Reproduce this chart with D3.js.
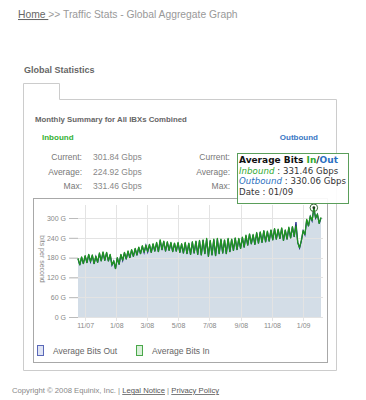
<!DOCTYPE html>
<html>
<head>
<meta charset="utf-8">
<script src="https://cdn.jsdelivr.net/npm/d3@7"></script>
<style>
  body { margin: 0; background: #fff; }
  text { font-family: "Liberation Sans", Arial, sans-serif; }
</style>
</head>
<body>
<div id="chart"></div>
<script>
// half-week samples: weekday high, then weekend low, starting 18 Oct 2007
const startDate = new Date(2007, 9, 18)
const inHigh = [178,182,186,190,188,184,194,197,196,190,170,180,190,196,200,204,208,212,216,218,220,222,226,234,230,228,226,224,226,222,226,224,228,230,232,234,238,232,236,238,236,234,238,236,240,238,242,248,252,250,256,258,262,260,264,268,266,270,264,272,274,276,210,262,296,306,331,312,302]
const inLow = [158,162,165,168,162,166,170,172,170,158,147,160,172,176,180,184,188,192,196,198,196,200,198,204,200,202,198,200,196,194,192,190,194,190,188,192,184,188,186,192,194,192,198,202,204,208,212,218,222,220,224,226,228,230,234,236,238,232,236,240,244,226,232,250,276,292,300,284]
const outHigh = [176,181,185,189,187,183,192,196,195,189,169,179,189,195,199,203,207,211,215,217,219,221,225,232,229,227,225,223,225,221,225,223,227,229,231,233,236,231,235,237,235,233,237,235,239,237,241,247,251,249,255,257,261,259,263,267,265,269,263,271,273,288,209,261,294,305,330,311,300]
const outLow = [157,161,164,167,161,165,169,171,169,157,146,159,171,175,179,183,187,191,195,197,195,199,197,203,199,201,197,199,195,193,191,189,193,189,187,191,183,187,185,191,193,191,197,201,203,207,211,217,221,219,223,225,227,229,233,235,237,231,235,239,243,225,231,249,275,291,299,283]

const yTicks = [0, 60, 120, 180, 240, 300]
const monthTicks = [new Date(2007,10,1), new Date(2008,0,1), new Date(2008,2,1), new Date(2008,4,1),
                    new Date(2008,6,1), new Date(2008,8,1), new Date(2008,10,1), new Date(2009,0,1)]

const statLabels = ["Current:", "Average:", "Max:"]
const inStats = ["301.84 Gbps", "224.92 Gbps", "331.46 Gbps"]
const legendItems = ["Average Bits Out", "Average Bits In"]

const data = []
inHigh.forEach((v, k) => {
  data.push({date: d3.timeHour.offset(startDate, k*168), inb: v, out: outHigh[k]})
  if (k < inLow.length)
    data.push({date: d3.timeHour.offset(startDate, k*168 + 84), inb: inLow[k], out: outLow[k]})
})

const svg = d3.select("#chart").append("svg")
  .attr("width", 366).attr("height", 400)

// breadcrumb
const crumb = svg.append("text").attr("x", 18).attr("y", 18).style("font-size", "10.3px")
crumb.append("tspan").attr("fill", "#666").style("text-decoration", "underline").text("Home ")
crumb.append("tspan").attr("fill", "#999").text(">> Traffic Stats - Global Aggregate Graph")

svg.append("text").attr("x", 24).attr("y", 73)
  .style("font-size", "9px").style("font-weight", "bold").attr("fill", "#666")
  .text("Global Statistics")

// panel with tab
svg.append("path")
  .attr("d", "M23.5,83.5 H59.5 V99.5 H336.5 V370.5 H23.5 Z")
  .attr("fill", "none").attr("stroke", "#ccc")

svg.append("text").attr("x", 35).attr("y", 122)
  .style("font-size", "7.8px").style("font-weight", "bold").attr("fill", "#666")
  .text("Monthly Summary for All IBXs Combined")

svg.append("text").attr("x", 42).attr("y", 140)
  .style("font-size", "8px").style("font-weight", "bold").attr("fill", "#33b033").text("Inbound")
svg.append("text").attr("x", 318).attr("y", 140).attr("text-anchor", "end")
  .style("font-size", "8px").style("font-weight", "bold").attr("fill", "#3a78c4").text("Outbound")

statLabels.forEach((s, i) => {
  const yy = 160 + i*14.5
  svg.append("text").attr("x", 82).attr("y", yy).attr("text-anchor", "end")
    .style("font-size", "8.5px").attr("fill", "#777").text(s)
  svg.append("text").attr("x", 93).attr("y", yy)
    .style("font-size", "8.5px").attr("fill", "#888").text(inStats[i])
  svg.append("text").attr("x", 230).attr("y", yy).attr("text-anchor", "end")
    .style("font-size", "8.5px").attr("fill", "#777").text(s)
})

// chart box
svg.append("rect").attr("x", 33.5).attr("y", 198.5).attr("width", 294).attr("height", 164)
  .attr("fill", "#fff").attr("stroke", "#a8a8a8")

const x = d3.scaleTime().domain(d3.extent(data, d => d.date)).range([78, 321])
const y = d3.scaleLinear().domain([0, 300]).range([317, 218])

svg.append("path").datum(data)
  .attr("fill", "#d3dde7")
  .attr("d", d3.area().x(d => x(d.date)).y0(y(0)).y1(d => y(d.out)))

// grid
svg.append("g").selectAll("line").data(yTicks).join("line")
  .attr("x1", 70).attr("x2", 323)
  .attr("y1", d => Math.round(y(d)) + 0.5).attr("y2", d => Math.round(y(d)) + 0.5)
  .attr("stroke", "#e3e3e3")
svg.append("g").selectAll("line").data(monthTicks).join("line")
  .attr("x1", d => Math.round(x(d)) + 0.5).attr("x2", d => Math.round(x(d)) + 0.5)
  .attr("y1", 205).attr("y2", 321)
  .attr("stroke", "#e3e3e3")

const yAxis = svg.append("g").attr("transform", "translate(78,0)")
  .call(d3.axisLeft(y).tickValues(yTicks).tickFormat(d => d + " G").tickSize(9).tickPadding(3))
yAxis.select(".domain").remove()
yAxis.selectAll("line").attr("stroke", "#bbb")
yAxis.selectAll("text").attr("fill", "#888").style("font-size", "7px")
  .style("font-family", "'Liberation Sans', Arial, sans-serif")

const xAxis = svg.append("g").attr("transform", "translate(0,317)")
  .call(d3.axisBottom(x).tickValues(monthTicks).tickFormat(d3.timeFormat("%-m/%y")).tickSize(0).tickPadding(6))
xAxis.select(".domain").remove()
xAxis.selectAll("text").attr("fill", "#888").style("font-size", "7px")
  .style("font-family", "'Liberation Sans', Arial, sans-serif")

svg.append("text")
  .attr("transform", "translate(40,259) rotate(90)")
  .attr("text-anchor", "middle")
  .style("font-size", "7px").attr("fill", "#888")
  .text("bits per second")

const line = key => d3.line().x(d => x(d.date)).y(d => y(d[key]))
svg.append("path").datum(data).attr("fill", "none")
  .attr("stroke", "#1b1f8a").attr("stroke-width", 1.2).attr("d", line("out"))
svg.append("path").datum(data).attr("fill", "none")
  .attr("stroke", "#1f941f").attr("stroke-width", 1.3).attr("stroke-linejoin", "round")
  .attr("d", line("inb"))

// hovered max point
const peak = data.reduce((a, b) => b.inb > a.inb ? b : a)
svg.append("circle").attr("cx", x(peak.date)).attr("cy", y(peak.inb)).attr("r", 3.8)
  .attr("fill", "none").attr("stroke", "#3b6b3b").attr("stroke-width", 1)
svg.append("circle").attr("cx", x(peak.date)).attr("cy", y(peak.inb)).attr("r", 1.4)
  .attr("fill", "#1f3f1f")

// legend
legendItems.forEach((t, i) => {
  const lx = 37 + i*99
  svg.append("rect").attr("x", lx + 0.5).attr("y", 345.5).attr("width", 6).attr("height", 10)
    .attr("fill", i ? "#d9f0d9" : "#dfe4f4").attr("stroke", i ? "#4aa84a" : "#5a68b8")
  svg.append("text").attr("x", lx + 16).attr("y", 353.5)
    .style("font-size", "8.5px").attr("fill", "#666").text(t)
})

// tooltip
const tip = svg.append("g").attr("transform", "translate(237,153)")
tip.append("rect").attr("x", 0.5).attr("y", 0.5).attr("width", 111).attr("height", 50)
  .attr("fill", "#fff").attr("fill-opacity", 0.92).attr("stroke", "#5a9e5a")
const tf = "'DejaVu Sans', Verdana, sans-serif"
const t1 = tip.append("text").attr("x", 2).attr("y", 10).style("font-size", "9px")
  .style("font-family", tf).style("font-weight", "bold").attr("fill", "#111")
t1.append("tspan").text("Average Bits ")
t1.append("tspan").attr("fill", "#2fa82f").text("In")
t1.append("tspan").text("/")
t1.append("tspan").attr("fill", "#2a6fc0").text("Out")
const tipRows = [["Inbound", " : 331.46 Gbps", "#2fa82f"], ["Outbound", " : 330.06 Gbps", "#2a6fc0"], ["Date", " : 01/09", null]]
tipRows.forEach((r, i) => {
  const tt = tip.append("text").attr("x", 2).attr("y", 21 + i*10.3)
    .style("font-size", "8.6px").style("letter-spacing", "0.05px")
    .style("font-family", tf).attr("fill", "#333")
  tt.append("tspan").attr("fill", r[2] || "#333").style("font-style", r[2] ? "italic" : "normal").text(r[0])
  tt.append("tspan").text(r[1])
})

// footer
const foot = svg.append("text").attr("x", 12).attr("y", 393).style("font-size", "7.7px").attr("fill", "#888")
foot.append("tspan").text("Copyright \u00a9 2008 Equinix, Inc. | ")
foot.append("tspan").attr("fill", "#555").style("text-decoration", "underline").text("Legal Notice")
foot.append("tspan").text(" | ")
foot.append("tspan").attr("fill", "#555").style("text-decoration", "underline").text("Privacy Policy")
</script>
</body>
</html>
